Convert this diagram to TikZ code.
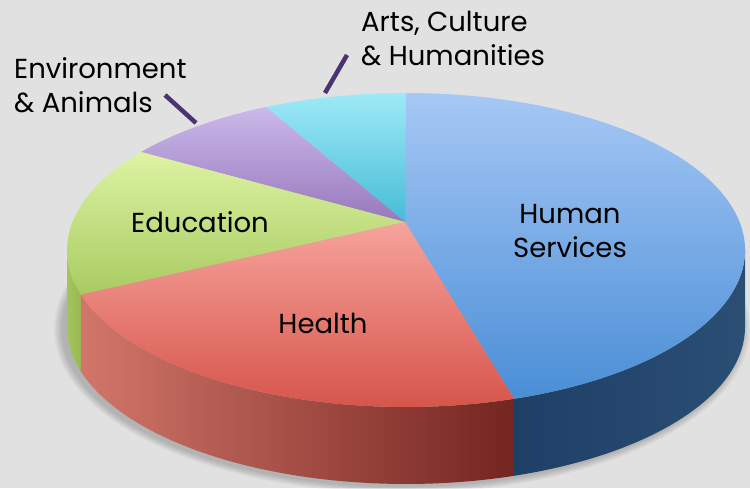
\documentclass[tikz,border=0pt]{standalone}
\usepackage{fontspec}
\setmainfont{Poppins}
\usetikzlibrary{calc}
\definecolor{backgr}{HTML}{E1E1E1}
\definecolor{leader}{HTML}{4B3270}
\definecolor{greenside1}{HTML}{A4C45C}
\definecolor{greenside2}{HTML}{9AB852}
\definecolor{redside1}{HTML}{D2766A}
\definecolor{redside2}{HTML}{742520}
\definecolor{blueside1}{HTML}{1F4066}
\definecolor{blueside2}{HTML}{2B4E74}
\definecolor{bluetop1}{HTML}{A6C8F5}
\definecolor{bluetop2}{HTML}{4A8ED6}
\definecolor{cyantop1}{HTML}{9EEAF7}
\definecolor{cyantop2}{HTML}{47BCD6}
\definecolor{purptop1}{HTML}{CBB9EA}
\definecolor{purptop2}{HTML}{9878BC}
\definecolor{greentop1}{HTML}{DDF3A3}
\definecolor{greentop2}{HTML}{A9CB62}
\definecolor{redtop1}{HTML}{F6A39C}
\definecolor{redtop2}{HTML}{D6544A}
\def\rx{339}
\def\ry{157}
\def\dep{77}
\def\labelnode{\node[align=left,inner sep=0pt,font=\fontsize{27.5}{34}\selectfont]}
\newcommand\topslice[4]{\shade[top color=#3,bottom color=#4] (v) -- ($(c)+(#1:\rx\space and \ry)$) arc[start angle=#1,end angle=#2,x radius=\rx,y radius=\ry] -- cycle;}
\newcommand\sideslice[4]{\shade[left color=#3,right color=#4] ($(c)+(#1:\rx\space and \ry)$) arc[start angle=#1,end angle=#2,x radius=\rx,y radius=\ry] -- ++(0,-\dep) arc[start angle=#2,end angle=#1,x radius=\rx,y radius=\ry] -- cycle;}

\begin{document}
\begin{tikzpicture}[x=1pt,y=1pt]
\fill[backgr] (0,0) rectangle (750,488);
\useasboundingbox (0,0) rectangle (750,488);
\coordinate (c) at (406,238);
\coordinate (v) at (405,266);
\foreach \i in {1,...,6}
  \fill[black,opacity=0.035] ($(c)+(-4,-\dep-2)$) ellipse [x radius=\rx+1.5*\i,y radius=\ry+1.2*\i];
\sideslice{180}{196.5}{greenside1}{greenside2}
\sideslice{196.5}{288.6}{redside1}{redside2}
\sideslice{288.6}{360}{blueside1}{blueside2}
\topslice{-71.4}{90}{bluetop1}{bluetop2}
\topslice{90}{114.4}{cyantop1}{cyantop2}
\topslice{114.4}{141.4}{purptop1}{purptop2}
\topslice{141.4}{196.5}{greentop1}{greentop2}
\topslice{196.5}{288.6}{redtop1}{redtop2}
\labelnode[align=center] (human) at (570,256.5) {Human\\Services};
\labelnode (educ) at (200,266) {Education};
\labelnode (health) at (323,165) {Health};
\labelnode[anchor=west] (envir) at (14,403) {Environment\\\& Animals};
\labelnode[anchor=west] (arts) at (361,450) {Arts, Culture\\\& Humanities};
\coordinate (envtip) at (165,393);
\coordinate (envrim) at (196,365);
\coordinate (artstip) at (347,433);
\coordinate (artsrim) at (325,395);
\draw[leader,line width=4.5pt] (envtip) -- (envrim);
\draw[leader,line width=4.5pt] (artstip) -- (artsrim);
\end{tikzpicture}
\end{document}
